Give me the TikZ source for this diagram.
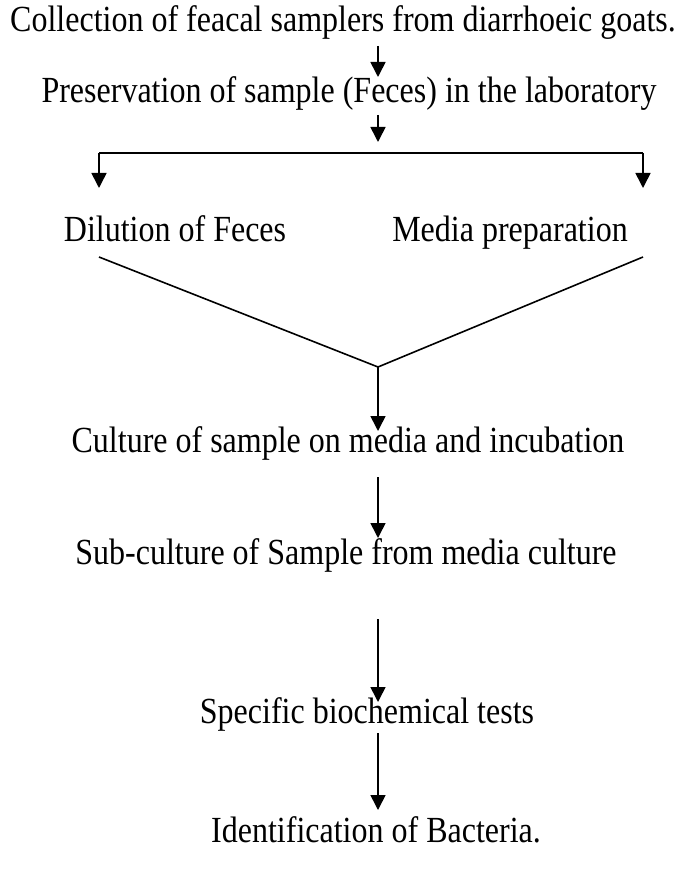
\documentclass[tikz,border=0pt]{standalone}
\usepackage{fontspec}
\usepackage{graphicx}
\setmainfont{Liberation Serif}
\usetikzlibrary{arrows.meta}
\newcommand{\tallt}[1]{\scalebox{1}[1.15]{#1}}
\begin{document}
\begin{tikzpicture}[x=1pt,y=-1pt,
  lbl/.style={inner sep=0pt,anchor=base,font=\fontsize{32}{38}\selectfont},
  ln/.style={line width=1.6pt},
  arr/.style={ln,-{Triangle[width=15pt,length=15pt]}}]
\useasboundingbox (0,0) rectangle (682,869);
\node[lbl] (t1) at (343,32) {\tallt{Collection of feacal samplers from diarrhoeic goats.}};
\node[lbl] (t2) at (349,103) {\tallt{Preservation of sample (Feces) in the laboratory}};
\node[lbl] (d) at (175,241) {\tallt{Dilution of Feces}};
\node[lbl] (m) at (510,241) {\tallt{Media preparation}};
\node[lbl] (c) at (348,452) {\tallt{Culture of sample on media and incubation}};
\node[lbl] (s) at (346,564) {\tallt{Sub-culture of Sample from media culture}};
\node[lbl] (b) at (367,723) {\tallt{Specific biochemical tests}};
\node[lbl] (i) at (376,842) {\tallt{Identification of Bacteria.}};
% coordinates
\coordinate (a1s) at (378,46);
\coordinate (a1e) at (378,77);
\coordinate (a2s) at (378,115);
\coordinate (a2e) at (378,142);
\coordinate (bl) at (99,153);
\coordinate (br) at (643,153);
\coordinate (blt) at (99,188);
\coordinate (brt) at (643,188);
\coordinate (vl) at (99,257);
\coordinate (vr) at (643,257);
\coordinate (vx) at (378,367);
\coordinate (a3e) at (378,431);
\coordinate (a4s) at (378,477);
\coordinate (a4e) at (378,538);
\coordinate (a5s) at (378,619);
\coordinate (a5e) at (378,702);
\coordinate (a6s) at (378,733);
\coordinate (a6e) at (378,810);
\draw[arr] (a1s) -- (a1e);
\draw[arr] (a2s) -- (a2e);
\draw[ln] (bl) -- (br);
\draw[arr] (bl) -- (blt);
\draw[arr] (br) -- (brt);
\draw[ln] (vl) -- (vx) -- (vr);
\draw[arr] (vx) -- (a3e);
\draw[arr] (a4s) -- (a4e);
\draw[arr] (a5s) -- (a5e);
\draw[arr] (a6s) -- (a6e);
\end{tikzpicture}
\end{document}
